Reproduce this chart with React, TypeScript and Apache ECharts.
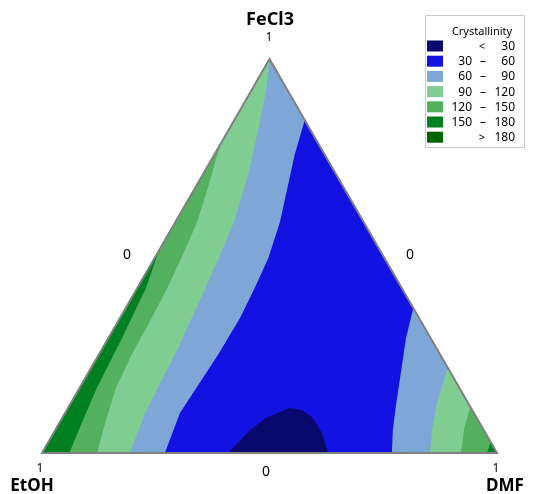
import React, { useEffect, useRef } from "react";
import * as echarts from "echarts";

// Ternary points are [FeCl3, DMF]; EtOH = 1 - FeCl3 - DMF
const thresholds = [30, 60, 90, 120, 150, 180];
const bandColors = ["#0a0a6e", "#1212e2", "#7ea7d8", "#80cd92", "#52b05f", "#008020", "#006400"];
const legendTitle = "Crystallinity";
const axisNames = ["FeCl3", "EtOH", "DMF"];

// 150-180 | 120-150 (left)
const boundaryA = [[0.515, 0], [0.419, 0.019], [0.292, 0.03], [0.165, 0.038], [0.079, 0.049], [0, 0.06]];
// 120-150 | 90-120 (left)
const boundaryB = [[0.794, 0], [0.756, 0.007], [0.673, 0.028], [0.586, 0.048], [0.503, 0.058], [0.419, 0.066], [0.332, 0.07], [0.249, 0.072], [0.165, 0.08], [0.079, 0.1], [0, 0.121]];
// 90-120 | 60-90 (left)
const boundaryC = [[1, 0], [0.921, 0.032], [0.82, 0.065], [0.706, 0.1], [0.586, 0.129], [0.503, 0.14], [0.388, 0.153], [0.261, 0.166], [0.102, 0.176], [0, 0.193]];
// 60-90 | 30-60 (left)
const boundaryD = [[0, 0.27], [0.102, 0.2525], [0.249, 0.262], [0.343, 0.264], [0.419, 0.258], [0.495, 0.25], [0.586, 0.23], [0.673, 0.203], [0.756, 0.177], [0.845, 0.155]];
// < 30 region
const boundaryE = [[0, 0.409], [0.058, 0.428], [0.091, 0.449], [0.114, 0.488], [0.109, 0.517], [0.089, 0.551], [0.051, 0.59], [0, 0.629]];
// 30-60 | 60-90 (right)
const boundaryF = [[0.368, 0.632], [0.292, 0.654], [0.206, 0.686], [0.122, 0.717], [0.058, 0.742], [0, 0.769]];
// 60-90 | 90-120 (right)
const boundaryG = [[0.216, 0.784], [0.129, 0.804], [0.058, 0.828], [0, 0.853]];
// 90-120 | 120-150 (right)
const boundaryH = [[0.117, 0.883], [0.064, 0.896], [0, 0.921]];
// 120-150 | 150-180 (right)
const boundaryI = [[0.028, 0.972], [0, 0.978]];

const H = Math.sqrt(3) / 2;
const toXY = (p: number[]) => [p[1] + p[0] / 2, p[0] * H];

export default function App() {
  const ref = useRef<HTMLDivElement>(null);
  useEffect(() => {
    const chart = echarts.init(ref.current!, null, { renderer: "svg" });
    const T = [1, 0], L = [0, 0], R = [0, 1];
    const polys = [
      { pts: [T, L, R], color: bandColors[2] },
      { pts: [...boundaryD, ...boundaryF], color: bandColors[1] },
      { pts: boundaryE, color: bandColors[0] },
      { pts: [...boundaryC, L], color: bandColors[3] },
      { pts: [...boundaryB, L], color: bandColors[4] },
      { pts: [...boundaryA, L], color: bandColors[5] },
      { pts: [...boundaryG, R], color: bandColors[3] },
      { pts: [...boundaryH, R], color: bandColors[4] },
      { pts: [...boundaryI, R], color: bandColors[5] },
    ];
    const font = '"Segoe UI", "Noto Sans", sans-serif';
    const txt = (text: string, x: number, y: number, size: number, bold = false, align = "center") => ({
      type: "text",
      x,
      y,
      silent: true,
      style: {
        text,
        fill: "#000",
        font: `${bold ? "bold " : ""}${size}px ${font}`,
        textAlign: align,
        textVerticalAlign: "middle",
        lineHeight: size,
      },
    });
    const legendEls: any[] = [
      { type: "rect", shape: { x: 425.5, y: 15.5, width: 99, height: 132 }, style: { fill: "#fff", stroke: "#c8c8c8", lineWidth: 1 } },
      txt(legendTitle, 482, 30, 11),
    ];
    const n = bandColors.length;
    for (let i = 0; i < n; i++) {
      const y = 45.5 + i * 15.2;
      legendEls.push({ type: "rect", shape: { x: 427, y: y - 5, width: 16, height: 11 }, style: { fill: bandColors[i] } });
      if (i === 0) {
        legendEls.push(txt("<", 482, y, 11));
        legendEls.push(txt(String(thresholds[0]), 515, y, 12, false, "right"));
      } else if (i === n - 1) {
        legendEls.push(txt(">", 482, y, 11));
        legendEls.push(txt(String(thresholds[n - 2]), 515, y, 12, false, "right"));
      } else {
        legendEls.push(txt(String(thresholds[i - 1]), 472, y, 12, false, "right"));
        legendEls.push(txt("–", 483, y, 12));
        legendEls.push(txt(String(thresholds[i]), 515, y, 12, false, "right"));
      }
    }
    chart.setOption({
      animation: false,
      grid: { left: 42, right: 36, top: 59, bottom: 41 },
      xAxis: { type: "value", min: 0, max: 1, show: false },
      yAxis: { type: "value", min: 0, max: H, show: false },
      series: [
        {
          type: "custom",
          coordinateSystem: "cartesian2d",
          silent: true,
          data: polys.map(() => [0, 0]),
          renderItem: (params: any, api: any) => {
            const p = polys[params.dataIndex];
            return {
              type: "polygon",
              shape: { points: p.pts.map((q) => api.coord(toXY(q))) },
              style: { fill: p.color },
            };
          },
        },
        {
          type: "custom",
          coordinateSystem: "cartesian2d",
          silent: true,
          z: 5,
          data: [[0, 0]],
          renderItem: (params: any, api: any) => ({
            type: "polygon",
            shape: { points: [T, L, R].map((q) => api.coord(toXY(q))) },
            style: { fill: "none", stroke: "#808080", lineWidth: 2 },
          }),
        },
      ],
      graphic: [
        txt(axisNames[0], 270, 18, 18, true),
        txt(axisNames[1], 32, 484, 17, true),
        txt(axisNames[2], 505, 484, 17, true),
        txt("1", 269, 36, 12),
        txt("1", 40, 467, 12),
        txt("1", 496, 467, 12),
        txt("0", 266, 470, 14),
        txt("0", 127, 253, 14),
        txt("0", 410, 253, 14),
        ...legendEls,
      ],
    });
    return () => chart.dispose();
  }, []);
  return <div ref={ref} style={{ position: "fixed", left: 0, top: 0, width: 533, height: 494 }} />;
}
